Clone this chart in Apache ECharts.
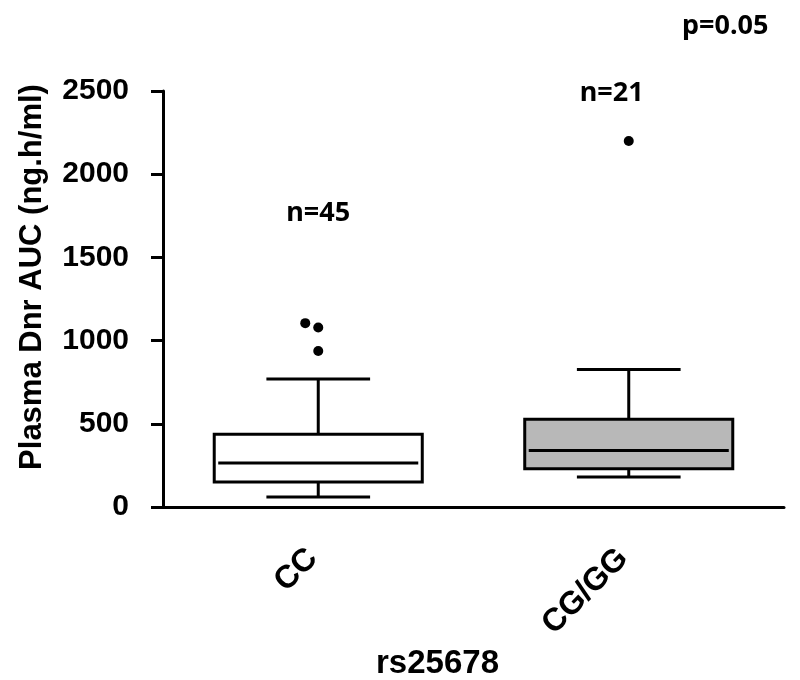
<!DOCTYPE html>
<html>
<head>
<meta charset="utf-8">
<script src="https://cdn.jsdelivr.net/npm/echarts@6/dist/echarts.min.js"></script>
<style>
  html, body { margin: 0; padding: 0; background: #fff; }
  #chart { width: 800px; height: 680px; }
</style>
</head>
<body>
<div id="chart"></div>
<script>
// genotype groups
var categories = ['CC', 'CG/GG'];
// [min whisker, Q1, median, Q3, max whisker]
var ccBox = [60, 150, 264, 437, 769];
var cggBox = [180, 230, 340, 527, 827];
// outliers
var ccOutliers = [1105, 1079, 937];
var cggOutliers = [2200];
// group sizes, p value
var groupN = ['n=45', 'n=21'];
var nLabelY = [1766, 2486];
var pText = 'p=0.05';
var yTicks = [0, 500, 1000, 1500, 2000, 2500];

var boxFill = ['#ffffff', '#b8b8b8'];
var ccJitter = [-13, 0, 0];

var chart = echarts.init(document.getElementById('chart'));

var boxData = [
  [0].concat(ccBox),
  [1].concat(cggBox)
];

var outlierData = [];
ccOutliers.forEach(function (v, i) {
  outlierData.push({ value: [0, v], symbolOffset: [ccJitter[i], 0] });
});
cggOutliers.forEach(function (v) {
  outlierData.push({ value: [1, v] });
});

// draw box, median, whiskers with half-width caps
function renderBox(params, api) {
  var cat = api.value(0);
  var band = api.size([1, 0])[0];
  var half = band * 0.335;
  var capHalf = band * 0.167;
  var pMin = api.coord([cat, api.value(1)]);
  var pQ1 = api.coord([cat, api.value(2)]);
  var pMed = api.coord([cat, api.value(3)]);
  var pQ3 = api.coord([cat, api.value(4)]);
  var pMax = api.coord([cat, api.value(5)]);
  var x = pQ1[0];
  var lineStyle = { stroke: '#000', lineWidth: 3, fill: null };
  return {
    type: 'group',
    children: [
      { type: 'line', shape: { x1: x, y1: pMax[1], x2: x, y2: pQ3[1] }, style: lineStyle },
      { type: 'line', shape: { x1: x, y1: pQ1[1], x2: x, y2: pMin[1] }, style: lineStyle },
      { type: 'line', shape: { x1: x - capHalf, y1: pMax[1], x2: x + capHalf, y2: pMax[1] }, style: lineStyle },
      { type: 'line', shape: { x1: x - capHalf, y1: pMin[1], x2: x + capHalf, y2: pMin[1] }, style: lineStyle },
      {
        type: 'rect',
        shape: { x: x - half, y: pQ3[1], width: half * 2, height: pQ1[1] - pQ3[1] },
        style: { fill: boxFill[cat], stroke: '#000', lineWidth: 3 }
      },
      { type: 'line', shape: { x1: x - half + 4, y1: pMed[1], x2: x + half - 4, y2: pMed[1] }, style: lineStyle }
    ]
  };
}

var option = {
  backgroundColor: '#fff',
  animation: false,
  grid: { left: 163, right: 16, top: 91, bottom: 173, containLabel: false, outerBoundsMode: 'none' },
  xAxis: {
    type: 'category',
    data: categories,
    name: 'rs25678',
    nameLocation: 'middle',
    nameGap: 140,
    nameTextStyle: {
      fontFamily: 'Liberation Sans', fontWeight: 'bold', fontSize: 33, color: '#000',
      padding: [0, 72, 0, 0]
    },
    axisLine: { lineStyle: { color: '#000', width: 3 } },
    axisTick: { alignWithLabel: true, length: 10, lineStyle: { color: '#000', width: 3 } },
    axisLabel: {
      rotate: 45, margin: 41, color: '#000', padding: [0, 8, 0, 0],
      fontFamily: 'Liberation Sans', fontWeight: 'bold', fontSize: 32
    },
    splitLine: { show: false }
  },
  yAxis: {
    type: 'value',
    min: yTicks[0],
    max: yTicks[yTicks.length - 1],
    interval: 500,
    name: 'Plasma Dnr AUC (ng.h/ml)',
    nameLocation: 'middle',
    nameRotate: 90,
    nameGap: 115,
    nameTextStyle: {
      fontFamily: 'Liberation Sans', fontWeight: 'bold', fontSize: 31, color: '#000',
      padding: [0, 0, 0, 44]
    },
    axisLine: { show: true, lineStyle: { color: '#000', width: 3 } },
    axisTick: { show: true, length: 12, lineStyle: { color: '#000', width: 3 } },
    axisLabel: {
      margin: 34, color: '#000',
      fontFamily: 'Liberation Sans', fontWeight: 'bold', fontSize: 30,
      formatter: function (v) { return String(v); }
    },
    splitLine: { show: false }
  },
  series: [
    {
      type: 'custom',
      renderItem: renderBox,
      encode: { x: 0, y: [1, 2, 3, 4, 5] },
      data: boxData,
      z: 2
    },
    {
      type: 'scatter',
      data: outlierData,
      symbolSize: 10,
      itemStyle: { color: '#000', opacity: 1 },
      z: 3
    },
    {
      type: 'scatter',
      data: [[0, nLabelY[0]], [1, nLabelY[1]]],
      symbolSize: 0,
      silent: true,
      itemStyle: { opacity: 1 },
      label: {
        show: true,
        position: 'inside',
        formatter: function (p) { return groupN[p.dataIndex]; },
        color: '#000',
        opacity: 1,
        fontFamily: 'Noto Sans', fontWeight: 'bold', fontSize: 27
      },
      labelLayout: function (p) {
        return p.dataIndex === 1 ? { dx: -17 } : {};
      }
    }
  ],
  graphic: [
    {
      type: 'text',
      left: 682,
      top: 13,
      style: {
        text: pText,
        fill: '#000',
        font: 'bold 27px "Noto Sans"'
      }
    }
  ]
};

chart.setOption(option);
</script>
</body>
</html>
